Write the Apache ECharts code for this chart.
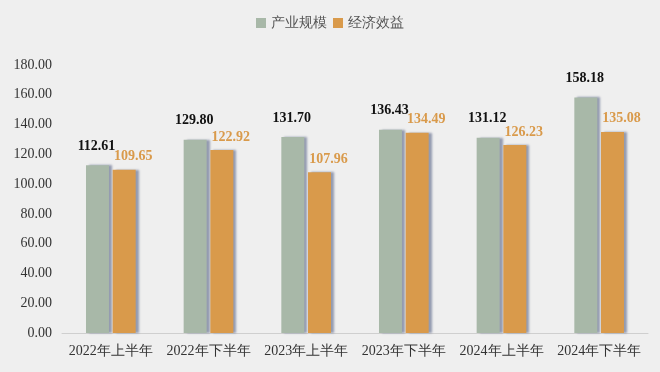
<!DOCTYPE html>
<html><head><meta charset="utf-8">
<script src="https://cdn.jsdelivr.net/npm/echarts@6/dist/echarts.min.js"></script>
<style>html,body{margin:0;padding:0;background:#efefef}#c{width:660px;height:372px}</style>
</head><body><div id="c"></div>
<script>
var categories = ['2022年上半年','2022年下半年','2023年上半年','2023年下半年','2024年上半年','2024年下半年'];
var seriesNames = ['产业规模','经济效益'];
var scaleValues = [112.61,129.80,131.70,136.43,131.12,158.18];
var benefitValues = [109.65,122.92,107.96,134.49,126.23,135.08];
var yTicks = [0,20,40,60,80,100,120,140,160,180];

var font = '"Liberation Serif","Times New Roman",serif';
var chart = echarts.init(document.getElementById('c'));
chart.setOption({
  backgroundColor:'#efefef',
  animation:false,
  legend:{top:11,left:'center',itemWidth:10,itemHeight:10,itemGap:6,icon:'rect',
    textStyle:{fontFamily:font,fontSize:14,color:'#555'},data:seriesNames},
  grid:{left:62,right:12,top:65,bottom:39},
  xAxis:{type:'category',data:categories,
    axisLine:{lineStyle:{color:'#cfcfcf',width:1}},axisTick:{show:false},
    axisLabel:{interval:0,fontFamily:font,fontSize:14,color:'#333',margin:11}},
  yAxis:{type:'value',min:yTicks[0],max:yTicks[yTicks.length-1],interval:20,
    splitLine:{show:false},axisLine:{show:false},axisTick:{show:false},
    axisLabel:{fontFamily:font,fontSize:14,color:'#333',margin:10,formatter:function(v){return v.toFixed(2);}}},
  series:[
    {name:seriesNames[0],type:'bar',data:scaleValues,barWidth:23,barGap:'16%',
     itemStyle:{color:'#a8b8a8',shadowColor:'rgba(110,120,150,0.7)',shadowOffsetX:3,shadowBlur:2},
     label:{show:true,position:'top',distance:12,offset:[-1,0],fontFamily:font,fontSize:14,fontWeight:'bold',color:'#111',
       formatter:function(p){return p.value.toFixed(2);}}},
    {name:seriesNames[1],type:'bar',data:benefitValues,barWidth:23,
     itemStyle:{color:'#d99a4b',shadowColor:'rgba(110,120,150,0.7)',shadowOffsetX:3,shadowBlur:2},
     label:{show:true,position:'top',distance:6,offset:[9,0],fontFamily:font,fontSize:14,fontWeight:'bold',color:'#d99a4b',
       formatter:function(p){return p.value.toFixed(2);}}}
  ]
});
</script></body></html>
